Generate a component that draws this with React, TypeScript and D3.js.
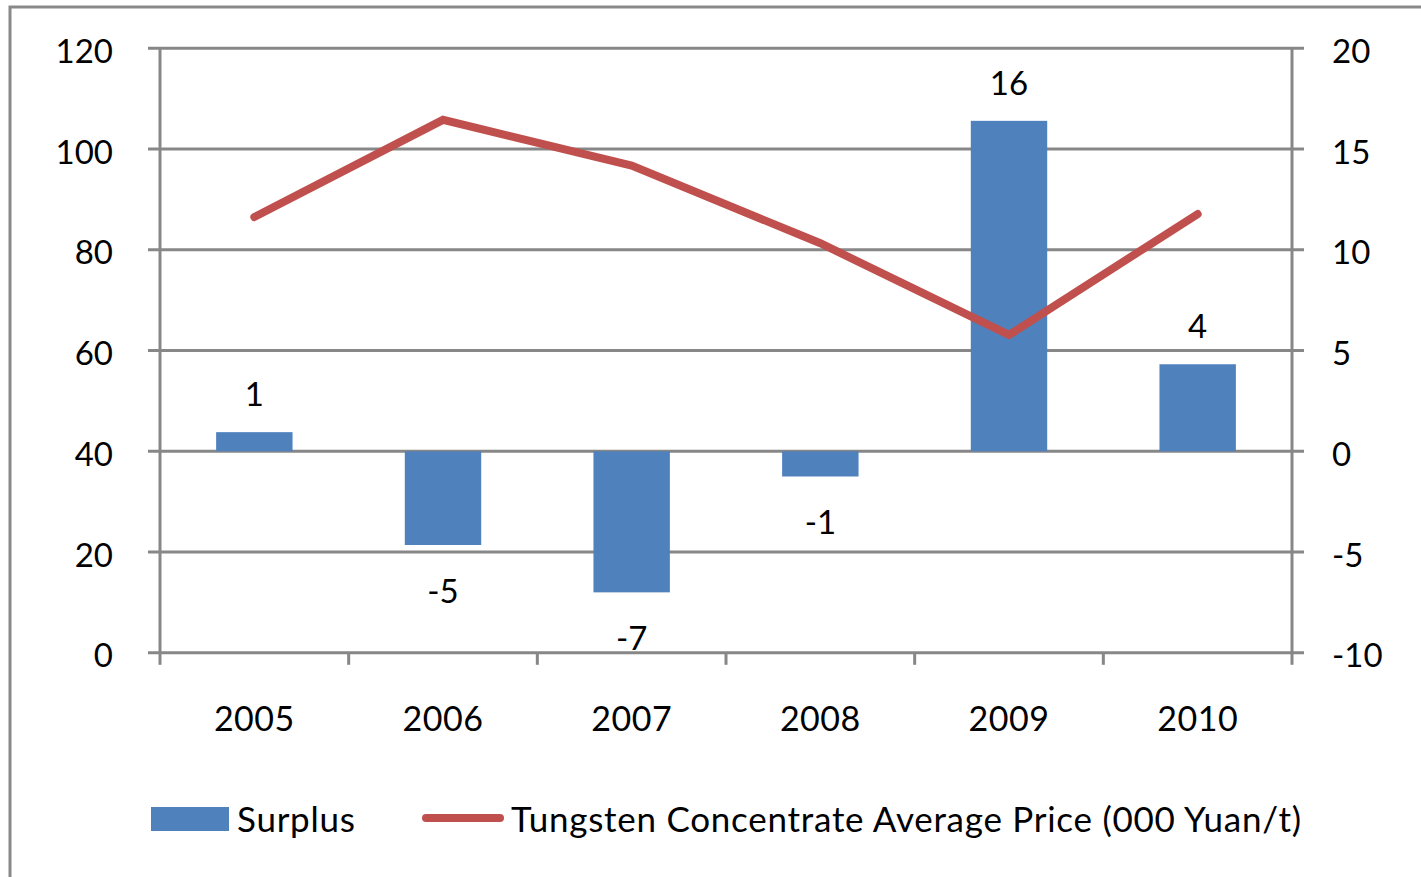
import React from "react";
import * as d3 from "d3";

const years = ["2005", "2006", "2007", "2008", "2009", "2010"];
const surplus = [0.95, -4.65, -7.0, -1.25, 16.4, 4.32];
const surplusLabels = ["1", "-5", "-7", "-1", "16", "4"];
const price = [86.5, 105.8, 96.7, 81.3, 63.1, 87.1];
const leftTicks = [0, 20, 40, 60, 80, 100, 120];
const rightTicks = [-10, -5, 0, 5, 10, 15, 20];
const seriesNames = ["Surplus", "Tungsten Concentrate Average Price (000 Yuan/t)"];

const W = 1421;
const H = 877;
const plot = { left: 160, right: 1292, top: 48.3, bottom: 652.8 };
const FONT = "Lato, 'Liberation Sans', sans-serif";
const FS = 33;
const GRID = "#878787";
const BLUE = "#4F81BD";
const RED = "#C0504D";

export default function App() {
  const x = d3.scaleBand<string>().domain(years).range([plot.left, plot.right]).padding(0);
  const bw = x.bandwidth();
  const barW = bw * 0.405;
  const yL = d3.scaleLinear().domain([0, 120]).range([plot.bottom, plot.top]);
  const yR = d3.scaleLinear().domain([-10, 20]).range([plot.bottom, plot.top]);
  const cx = (c: string) => (x(c) as number) + bw / 2;

  const lineGen = d3
    .line<number>()
    .x((_, i) => cx(years[i]))
    .y((d) => yL(d));

  const boundaries = [...years.map((c) => x(c) as number), plot.right];

  return (
    <svg
      width={W}
      height={H}
      style={{ position: "absolute", left: 0, top: 0, background: "#fff" }}
      fontFamily={FONT}
    >
      <rect x={0} y={0} width={W} height={H} fill="#fff" />
      <rect x={10} y={7} width={W + 100} height={H + 100} fill="none" stroke="#898989" strokeWidth={3} />

      {/* gridlines */}
      {leftTicks.map((t) => (
        <line key={"g" + t} x1={plot.left - 12} x2={plot.right + 12} y1={yL(t)} y2={yL(t)} stroke={GRID} strokeWidth={3} />
      ))}
      {/* axis lines */}
      <line x1={plot.left} x2={plot.left} y1={plot.top} y2={plot.bottom} stroke={GRID} strokeWidth={3} />
      <line x1={plot.right} x2={plot.right} y1={plot.top} y2={plot.bottom} stroke={GRID} strokeWidth={3} />
      {boundaries.map((b, i) => (
        <line key={"xt" + i} x1={b} x2={b} y1={plot.bottom} y2={plot.bottom + 12} stroke={GRID} strokeWidth={3} />
      ))}

      {/* bars */}
      {surplus.map((v, i) => {
        const y0 = yR(0);
        const y1 = yR(v);
        return (
          <rect
            key={"b" + i}
            x={cx(years[i]) - barW / 2}
            y={Math.min(y0, y1)}
            width={barW}
            height={Math.abs(y1 - y0)}
            fill={BLUE}
          />
        );
      })}

      {/* line */}
      <path d={lineGen(price) || ""} fill="none" stroke={RED} strokeWidth={8} strokeLinecap="round" strokeLinejoin="miter" />

      {/* bar labels */}
      {surplus.map((v, i) => (
        <text
          key={"l" + i}
          x={cx(years[i])}
          y={v >= 0 ? yR(v) - 26 : yR(v) + 58}
          textAnchor="middle"
          fontSize={FS}
          fill="#000"
        >
          {surplusLabels[i]}
        </text>
      ))}

      {/* left axis labels */}
      {leftTicks.map((t) => (
        <text key={"lt" + t} x={113} y={yL(t) + 14.5} textAnchor="end" fontSize={FS} fill="#000">
          {t}
        </text>
      ))}
      {/* right axis labels */}
      {rightTicks.map((t) => (
        <text key={"rt" + t} x={1332} y={yR(t) + 14.5} textAnchor="start" fontSize={FS} fill="#000">
          {t}
        </text>
      ))}
      {/* x labels */}
      {years.map((c) => (
        <text key={"x" + c} x={cx(c)} y={731} textAnchor="middle" fontSize={34} letterSpacing={0.5} fill="#000">
          {c}
        </text>
      ))}

      {/* legend */}
      <rect x={151} y={807} width={78} height={24} fill={BLUE} />
      <text x={237} y={832} fontSize={35} letterSpacing={0.74} fill="#000">
        {seriesNames[0]}
      </text>
      <line x1={426} x2={500} y1={818} y2={818} stroke={RED} strokeWidth={8} strokeLinecap="round" />
      <text x={511} y={832} fontSize={35} letterSpacing={0.74} fill="#000">
        {seriesNames[1]}
      </text>
    </svg>
  );
}
